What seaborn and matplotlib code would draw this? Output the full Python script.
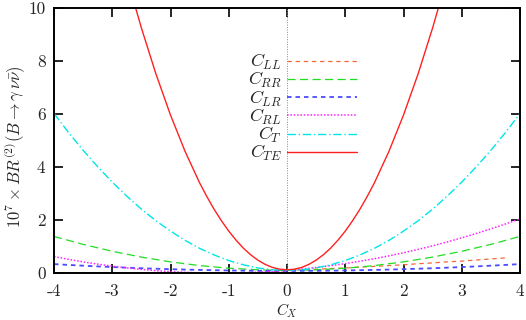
import numpy as np
import pandas as pd
import matplotlib
matplotlib.use("Agg")
import matplotlib.pyplot as plt
import seaborn as sns

# C_X grid and BR values (units of 1e-7)
cx = [-4, -3.75, -3.5, -3.25, -3, -2.75, -2.5, -2.25, -2, -1.75, -1.5, -1.25, -1,
      -0.75, -0.5, -0.25, 0, 0.25, 0.5, 0.75, 1, 1.25, 1.5, 1.75, 2, 2.25, 2.5,
      2.75, 3, 3.25, 3.5, 3.75, 4]

br_ll = [0.01, 0.01, 0.01, 0.01, 0.01, 0.01, 0.01, 0.01, 0.01, 0.01, 0.01, 0.01, 0.01,
         0.01, 0.02, 0.05, 0.10, 0.12, 0.14, 0.17, 0.19, 0.22, 0.25, 0.28, 0.31, 0.35, 0.38,
         0.42, 0.45, 0.49, 0.53, 0.57, np.nan]
br_rr = [1.38, 1.23, 1.08, 0.95, 0.82, 0.71, 0.60, 0.51, 0.42, 0.35, 0.28, 0.23, 0.18,
         0.15, 0.12, 0.105, 0.10, 0.105, 0.12, 0.15, 0.18, 0.23, 0.28, 0.35, 0.42, 0.51, 0.60,
         0.71, 0.82, 0.95, 1.08, 1.23, 1.38]
br_lr = [0.336, 0.305, 0.276, 0.249, 0.224, 0.201, 0.18, 0.161, 0.144, 0.129, 0.116, 0.105, 0.096,
         0.089, 0.084, 0.081, 0.08, 0.081, 0.084, 0.089, 0.096, 0.105, 0.116, 0.129, 0.144, 0.161, 0.18,
         0.201, 0.224, 0.249, 0.276, 0.305, 0.336]
br_rl = [0.62, 0.515, 0.42, 0.335, 0.259, 0.193, 0.136, 0.089, 0.052, 0.024, 0.01, 0.01, 0.01,
         0.01, 0.03, 0.06, 0.10, 0.149, 0.208, 0.277, 0.355, 0.443, 0.54, 0.647, 0.764, 0.89, 1.026,
         1.172, 1.327, 1.492, 1.666, 1.85, 2.044]
br_t = [6.02, 5.30, 4.63, 4.01, 3.43, 2.90, 2.41, 1.97, 1.58, 1.23, 0.93, 0.68, 0.47,
        0.31, 0.19, 0.12, 0.10, 0.12, 0.19, 0.31, 0.47, 0.68, 0.93, 1.23, 1.58, 1.97, 2.41,
        2.90, 3.43, 4.01, 4.63, 5.30, 6.02]

# C_TE is steep, so it is read on a finer grid near the minimum
cx_te = [-2.75, -2.5, -2.25, -2, -1.75, -1.5, -1.375, -1.25, -1.125, -1, -0.875, -0.75,
         -0.625, -0.5, -0.375, -0.25, -0.125, 0, 0.125, 0.25, 0.375, 0.5, 0.625, 0.75,
         0.875, 1, 1.125, 1.25, 1.375, 1.5, 1.75, 2, 2.25, 2.5, 2.75]
br_te = [11.16, 9.25, 7.51, 5.96, 4.59, 3.40, 2.88, 2.40, 1.97, 1.58, 1.24, 0.94,
         0.69, 0.485, 0.325, 0.21, 0.143, 0.12, 0.143, 0.21, 0.325, 0.485, 0.69, 0.94,
         1.24, 1.58, 1.97, 2.40, 2.88, 3.40, 4.59, 5.96, 7.51, 9.25, 11.16]

labels = ["$C_{LL}$", "$C_{RR}$", "$C_{LR}$", "$C_{RL}$", "$C_T$", "$C_{TE}$"]
xticks = [-4, -3, -2, -1, 0, 1, 2, 3, 4]
yticks = [0, 2, 4, 6, 8, 10]

sns.set_theme(style="ticks")
plt.rcParams["font.family"] = "cmr10"
plt.rcParams["mathtext.fontset"] = "cm"
plt.rcParams["axes.unicode_minus"] = False
plt.rcParams["axes.formatter.use_mathtext"] = True

fig = plt.figure(figsize=(5.26, 3.2), dpi=100)
ax = fig.add_axes([54 / 526, 47 / 320, 466 / 526, 265 / 320])

ax.axvline(0, color="#888888", lw=0.7, ls=(0, (1, 1.5)), zorder=1)

series = [(cx, br_ll), (cx, br_rr), (cx, br_lr), (cx, br_rl), (cx, br_t), (cx_te, br_te)]
colors = ["#f26a3a", "#22dd22", "#4a4aff", "#ff22ff", "#00e6e6", "#ff2020"]
styles = [(0, (3.5, 3)), (0, (6.5, 3.5)), (0, (2.5, 2.2)), (0, (1, 1.2)),
          (0, (6, 2, 1, 2)), "-"]
widths = [0.9, 0.9, 1.3, 1.1, 1.0, 1.0]

for (xs, vals), lab, c, ls, lw in zip(series, labels, colors, styles, widths):
    df = pd.DataFrame({"cx": xs, "br": vals})
    sns.lineplot(data=df, x="cx", y="br", color=c, linestyle=ls, lw=lw,
                 label=lab, ax=ax, errorbar=None)

ax.set_xlim(-4, 4)
ax.set_ylim(0, 10)
ax.set_xticks(xticks)
ax.set_xticklabels([str(t) for t in xticks])
ax.set_yticks(yticks)
ax.set_yticklabels([str(t) for t in yticks])
ax.tick_params(direction="in", top=True, right=True, length=6.5, width=1.2,
               labelsize=12.5, color="black")
ax.tick_params(axis="x", pad=8)
ax.tick_params(axis="y", pad=6)
for sp in ax.spines.values():
    sp.set_visible(True)
    sp.set_linewidth(1.4)
    sp.set_color("black")

ax.set_xlabel("$C_X$", fontsize=11)
ax.xaxis.set_label_coords(287 / 526, 1 - 301 / 320, transform=fig.transFigure)
ax.set_ylabel(r"$10^7 \times BR^{(2)}(B \to \gamma\,\nu\bar{\nu})$", fontsize=12)
ax.yaxis.set_label_coords(27 / 526, 1 - 147 / 320, transform=fig.transFigure)

leg = ax.legend(loc="upper right", bbox_to_anchor=(357 / 526, 1 - 52 / 320),
                bbox_transform=fig.transFigure, frameon=False, markerfirst=False,
                handlelength=3.85, handletextpad=0.3, labelspacing=-0.1,
                borderpad=0, borderaxespad=0, fontsize=13)

fig.savefig("out.png", dpi=100)
